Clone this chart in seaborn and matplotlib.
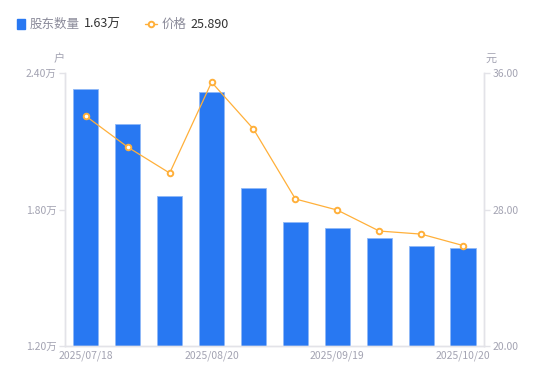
import matplotlib
matplotlib.use("Agg")
import matplotlib.pyplot as plt
from matplotlib.lines import Line2D
import pandas as pd
import seaborn as sns

# data
dates = ["2025/07/18", "2025/07/31", "2025/08/10", "2025/08/20", "2025/08/29",
         "2025/09/10", "2025/09/19", "2025/09/30", "2025/10/10", "2025/10/20"]
holders = [2.33, 2.176, 1.859, 2.316, 1.894, 1.745, 1.719, 1.675, 1.640, 1.63]  # 万户
prices = [33.48, 31.66, 30.14, 35.47, 32.72, 28.62, 27.97, 26.74, 26.56, 25.89]  # 元
shown_labels = ["2025/07/18", "2025/08/20", "2025/09/19", "2025/10/20"]

bar_color = "#2878F2"
line_color = "#FFB03A"
tick_color = "#A3A3B2"
axis_color = "#E3E3E8"

sns.set_style("white")
plt.rcParams["font.family"] = ["Noto Sans CJK SC", "DejaVu Sans"]

df = pd.DataFrame({"date": dates, "holders": holders, "price": prices})

fig = plt.figure(figsize=(5.5, 3.81), dpi=100)
ax = fig.add_axes([0.118, 0.092, 0.762, 0.716])

sns.barplot(data=df, x="date", y="holders", color=bar_color, width=0.6,
            saturation=1, edgecolor="#8FB8F7", linewidth=0.6, ax=ax)
ax.set_ylim(1.2, 2.4)
ax.set_xlim(-0.5, len(dates) - 0.5)

ax2 = ax.twinx()
sns.pointplot(data=df, x="date", y="price", color=line_color, ax=ax2,
              markers="o", markersize=4, markerfacecolor="white",
              markeredgewidth=1.4, linewidth=0.9)
ax2.set_ylim(20, 36)
ax2.set_xlim(-0.5, len(dates) - 0.5)

# axes styling
ax.set_yticks([1.2, 1.8, 2.4])
ax.set_yticklabels(["1.20万", "1.80万", "2.40万"])
ax2.set_yticks([20, 28, 36])
ax2.set_yticklabels(["20.00", "28.00", "36.00"])
ticks = [dates.index(d) for d in shown_labels]
ax.set_xticks(ticks)
ax.set_xticklabels(shown_labels)
ax.set_xlabel("")
ax.set_ylabel("")
ax2.set_xlabel("")
ax2.set_ylabel("")

for a in (ax, ax2):
    a.spines["top"].set_visible(False)
    for side in ("left", "right", "bottom"):
        a.spines[side].set_color(axis_color)
        a.spines[side].set_linewidth(1)
    a.tick_params(axis="y", colors=axis_color, labelcolor=tick_color,
                  labelsize=7.5, length=4, width=1, pad=2)
    a.grid(False)
ax.tick_params(axis="x", colors=axis_color, labelcolor=tick_color,
               labelsize=7.5, length=0, pad=3)

# unit labels above the axes
fig.text(0.108, 0.838, "户", color=tick_color, fontsize=8, ha="center")
fig.text(0.892, 0.838, "元", color=tick_color, fontsize=8, ha="center")

# legend row at top
fig.patches.append(plt.Rectangle((0.030, 0.925), 0.016, 0.024, color=bar_color,
                                 transform=fig.transFigure, figure=fig))
fig.text(0.054, 0.937, "股东数量", color="#8A8A99", fontsize=9, va="center")
fig.text(0.153, 0.937, f"{holders[-1]:.2f}万", color="#333333", fontsize=9, va="center")
fig.lines.append(Line2D([0.264, 0.2745, 0.285], [0.937, 0.937, 0.937],
                        color=line_color, lw=1, marker="o", markersize=4,
                        markerfacecolor="white", markeredgewidth=1.4,
                        markevery=[1], transform=fig.transFigure))
fig.text(0.293, 0.937, "价格", color="#8A8A99", fontsize=9, va="center")
fig.text(0.347, 0.937, f"{prices[-1]:.3f}", color="#333333", fontsize=9, va="center")

fig.savefig("out.png", dpi=100)
